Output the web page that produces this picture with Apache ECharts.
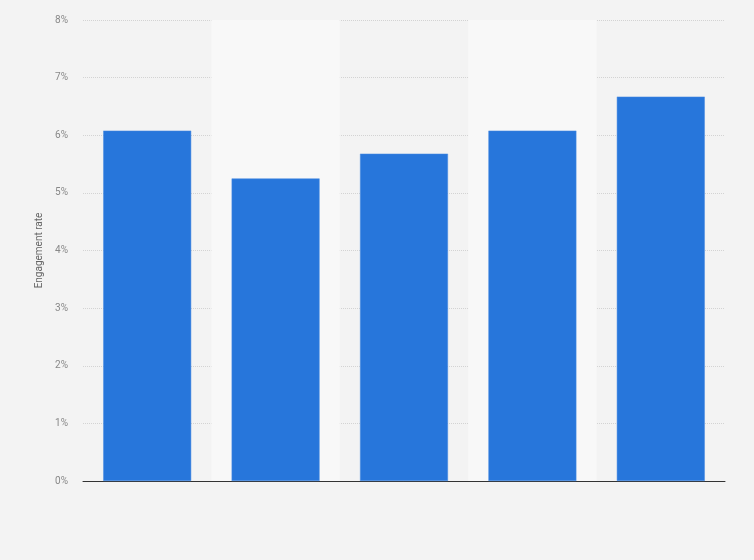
<!DOCTYPE html>
<html><head><meta charset="utf-8">
<script src="https://cdn.jsdelivr.net/npm/echarts@6/dist/echarts.min.js"></script>
<style>html,body{margin:0;padding:0;background:#f3f3f3;}#c{width:754px;height:560px;}</style>
</head><body><div id="c"></div>
<script>
var categories = ['1', '2', '3', '4', '5'];
var values = [6.08, 5.25, 5.68, 6.08, 6.67];
var yTicks = [0, 1, 2, 3, 4, 5, 6, 7, 8];
var yName = 'Engagement rate';

var chart = echarts.init(document.getElementById('c'));
chart.setOption({
  backgroundColor: '#f3f3f3',
  animation: false,
  grid: { left: 83, right: 29, top: 20, bottom: 79, containLabel: false },
  xAxis: {
    type: 'category',
    data: categories,
    axisLine: { show: true, lineStyle: { color: '#333', width: 1 } },
    axisTick: { show: false },
    axisLabel: { show: false },
    splitArea: { show: true, areaStyle: { color: ['rgba(0,0,0,0)', '#f8f8f8'] } }
  },
  yAxis: {
    type: 'value',
    min: yTicks[0],
    max: yTicks[yTicks.length - 1],
    interval: 1,
    name: yName,
    nameLocation: 'middle',
    nameGap: 37,
    nameTextStyle: { color: '#666', fontSize: 10, fontFamily: 'Roboto, Arial, sans-serif' },
    axisLine: { show: false },
    axisTick: { show: false },
    axisLabel: { color: '#888', fontSize: 10, margin: 15, fontFamily: 'Roboto, Arial, sans-serif', formatter: '{value}%' },
    splitLine: { show: true, lineStyle: { color: '#d3d3d3', type: [1, 1], width: 1 } }
  },
  series: [{
    type: 'bar',
    data: values,
    barWidth: '68.5%',
    itemStyle: { color: '#2776db', borderColor: '#4a8ce3', borderWidth: 0.5 }
  }]
});
</script></body></html>
